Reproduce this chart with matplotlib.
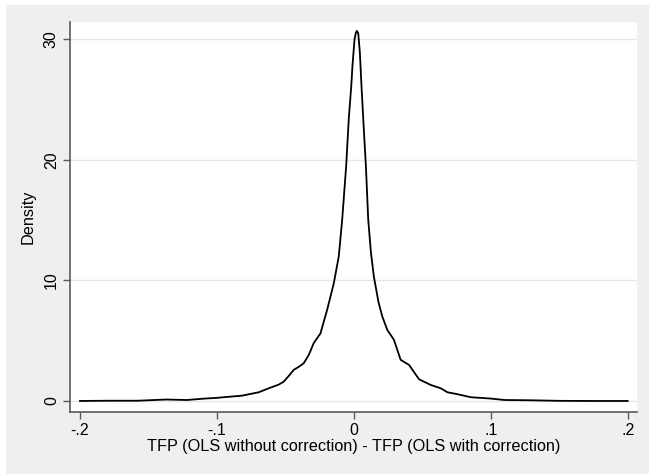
import matplotlib
matplotlib.use('Agg')
from matplotlib import pyplot as plt
from matplotlib.patches import Rectangle

# kernel density
x_vals = [-0.200, -0.180, -0.158, -0.137, -0.122, -0.110, -0.100, -0.090,
          -0.0817, -0.0695, -0.0622, -0.0550, -0.0512, -0.0470, -0.0439,
          -0.0400, -0.0366, -0.0329, -0.0293, -0.0244, -0.0195, -0.0146,
          -0.0110, -0.0085, -0.0056, -0.0037, -0.0019, -0.0010, 0.0005,
          0.0015, 0.0022, 0.0032, 0.0044, 0.0056, 0.0073, 0.0088, 0.0105,
          0.0125, 0.0146, 0.0180, 0.0208, 0.0244, 0.0293, 0.0342, 0.0403,
          0.0476, 0.0561, 0.0635, 0.0684, 0.0757, 0.0854, 0.100, 0.110,
          0.127, 0.151, 0.175, 0.200]
density = [0.00, 0.02, 0.02, 0.12, 0.08, 0.19, 0.26, 0.36,
           0.44, 0.72, 1.05, 1.35, 1.60, 2.15, 2.58,
           2.85, 3.13, 3.82, 4.80, 5.60, 7.56, 9.78,
           12.0, 15.05, 19.5, 23.4, 26.1, 27.8, 30.0,
           30.55, 30.7, 30.5, 28.9, 26.1, 22.5, 19.5, 15.05,
           12.3, 10.33, 8.2, 7.0, 5.9, 5.07, 3.41, 2.99,
           1.80, 1.33, 1.05, 0.72, 0.56, 0.31, 0.20, 0.08,
           0.06, 0.01, 0.00, 0.00]

x_ticks = [-0.2, -0.1, 0, 0.1, 0.2]
x_ticklabels = ['-.2', '-.1', '0', '.1', '.2']
y_ticks = [0, 10, 20, 30]
y_ticklabels = ['0', '10', '20', '30']

plt.rcParams['font.family'] = ['Liberation Sans', 'DejaVu Sans']

fig = plt.figure(figsize=(6.49, 4.74), dpi=100, facecolor='white')
fig.patches.append(Rectangle((6 / 649, 0), 1, 1 - 5 / 474, transform=fig.transFigure,
                             facecolor='#efefef', edgecolor='none', zorder=-1))

ax = fig.add_axes([70 / 649, 1 - 411.7 / 474, (637 - 70) / 649, (411.7 - 21.7) / 474])
ax.set_zorder(1)
ax.set_facecolor('white')
ax.plot(x_vals, density, color='black', lw=1.3, solid_joinstyle='round')

ax.set_xlim(-0.2073, 0.2068)
ax.set_ylim(-0.89, 31.46)
ax.set_xticks(x_ticks)
ax.set_xticklabels(x_ticklabels)
ax.set_yticks(y_ticks)
ax.set_yticklabels(y_ticklabels, rotation=90, va='center')
ax.yaxis.grid(True, color='#e6e6e6', lw=1.0)
ax.set_axisbelow(True)

for side in ('top', 'right'):
    ax.spines[side].set_visible(False)
for side in ('left', 'bottom'):
    ax.spines[side].set_color('#5a5a5a')
    ax.spines[side].set_linewidth(1.2)
ax.tick_params(axis='both', direction='out', length=5, width=1, color='#5a5a5a',
               labelsize=11.5, labelcolor='black', pad=3)

ax.set_ylabel('Density', fontsize=11.7, labelpad=6)
ax.set_xlabel('TFP (OLS without correction) - TFP (OLS with correction)', fontsize=11.7, labelpad=1)

fig.savefig('out.png', dpi=100, facecolor=fig.get_facecolor())
